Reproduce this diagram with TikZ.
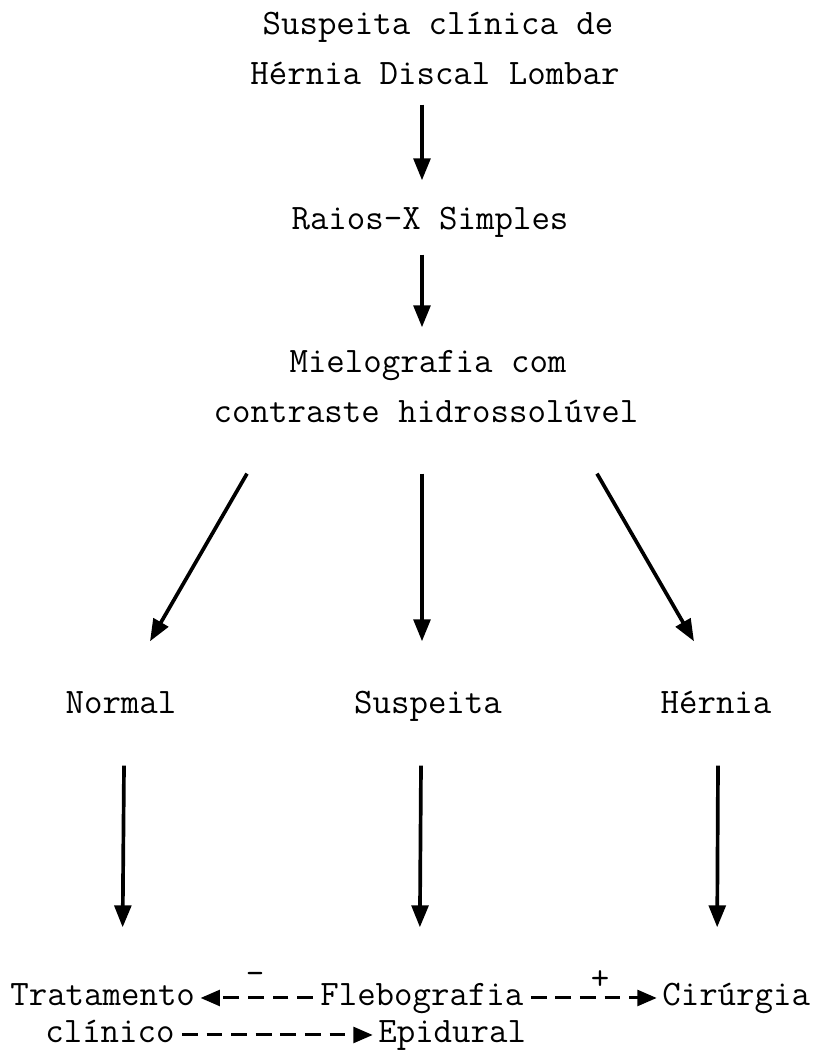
\documentclass[tikz,border=0pt]{standalone}
\usepackage{fontspec}
\usepackage{tikz}
\usetikzlibrary{arrows.meta,positioning}

\newcommand{\maquina}{\ttfamily\fontsize{20.4}{24}\selectfont\addfontfeature{FakeBold=2}}

\begin{document}
\begin{tikzpicture}[x=0.02cm,y=-0.02cm,
  texto/.style={inner sep=0pt, anchor=base, text height=11pt, text depth=3pt,
    font=\maquina},
  sinal/.style={inner sep=0pt, font=\maquina},
  seta/.style={line width=2.1pt, -{Triangle[length=12.5pt,width=9.5pt]}},
  tracejada/.style={line width=1.7pt, dash pattern=on 9pt off 5pt,
    shorten <=4pt, shorten >=3pt, -{Triangle[length=11pt,width=9pt]}}]

\useasboundingbox (0,0) rectangle (815,1063);

	\node[texto] (clin) at (438,34) {Suspeita clínica de};
	\node[texto] (hdl) at (435,84) {Hérnia Discal Lombar};
	\node[texto] (rx) at (430,229) {Raios-X Simples};
	\node[texto] (mielo) at (428,372) {Mielografia com};
	\node[texto] (contr) at (426,422) {contraste hidrossolúvel};

	\node[texto] (normal) at (121,713) {Normal};
	\node[texto] (susp) at (428,713) {Suspeita};
	\node[texto] (hernia) at (716,713) {Hérnia};

	\node[texto,anchor=base west] (trat) at (10,1005) {Tratamento};
	\node[texto,anchor=base west] (fleb) at (320,1005) {Flebografia};
	\node[texto,anchor=base west] (cir) at (662,1005) {Cirúrgia};
	\node[texto,anchor=base west] (clinico) at (45,1042) {clínico};
	\node[texto,anchor=base west] (epid) at (378,1042) {Epidural};
	\node[sinal] (menos) at (255,978) {-};
	\node[sinal] (mais) at (600,980) {+};

\draw[seta] ([shift={(-13,15)}]hdl.south) -- ([shift={(-8,-29)}]rx.north); % top arrow
\draw[seta] ([shift={(-8,20)}]rx.south) -- ([shift={(-6,-25)}]mielo.north);

\draw[seta] ([shift={(-179,46)}]contr.south) -- ([shift={(29,-52)}]normal.north); % left
\draw[seta] ([shift={(-4,46)}]contr.south) -- ([shift={(-6,-52)}]susp.north); % middle
\draw[seta] ([shift={(171,46)}]contr.south) -- ([shift={(-22,-52)}]hernia.north); % right

\draw[seta] ([shift={(3,47)}]normal.south) -- ([shift={(20,-58)}]trat.north);
\draw[seta] ([shift={(-7,47)}]susp.south) -- ([shift={(-2,-58)}]fleb.north);
\draw[seta] ([shift={(2,47)}]hernia.south) -- ([shift={(-19,-58)}]cir.north);

\draw[tracejada] (fleb.west) -- (trat.east); % -
\draw[tracejada] (fleb.east) -- (cir.west); % +
\draw[tracejada] (clinico.east) -- (epid.west);

\end{tikzpicture}
\end{document}
